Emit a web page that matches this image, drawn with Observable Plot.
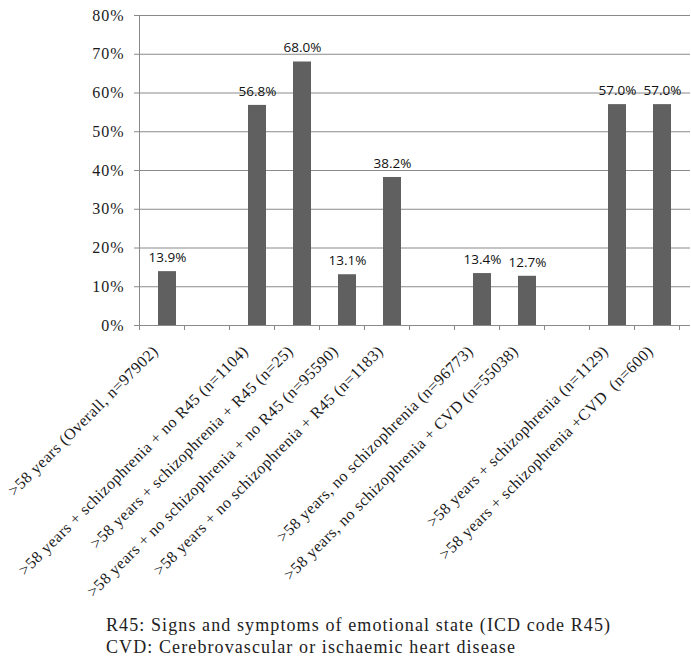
<!DOCTYPE html>
<html>
<head>
<meta charset="utf-8">
<script src="https://cdn.jsdelivr.net/npm/d3@7"></script>
<script src="https://cdn.jsdelivr.net/npm/@observablehq/plot@0.6"></script>
<style>
  body { margin: 0; background: #fff; }
  #caption {
    font-family: "Liberation Serif", serif;
    font-size: 18px;
    letter-spacing: 1.1px;
    line-height: 22px;
    color: #222;
    padding-left: 106px;
    margin-top: 9px;
  }
  g[aria-label="x-axis tick label"] text { letter-spacing: 0.5px; }
  g[aria-label="y-axis tick label"] text { letter-spacing: 1px; }
</style>
</head>
<body>
<div id="chart"></div>
<div id="caption">
  <div>R45: Signs and symptoms of emotional state (ICD code R45)</div>
  <div>CVD: Cerebrovascular or ischaemic heart disease</div>
</div>
<script>
// Groups along the x axis; empty strings are spacer slots between clusters
const groups = [
  ">58 years (Overall, n=97902)",
  "",
  ">58 years + schizophrenia + no R45 (n=1104)",
  ">58 years + schizophrenia + R45 (n=25)",
  ">58 years + no schizophrenia + no R45 (n=95590)",
  ">58 years + no schizophrenia + R45 (n=1183)",
  "",
  ">58 years, no schizophrenia (n=96773)",
  ">58 years, no schizophrenia + CVD (n=55038)",
  "",
  ">58 years + schizophrenia (n=1129)",
  ">58 years + schizophrenia +CVD  (n=600)"
];
// Percentage for each group (null = spacer)
const shares = [13.9, null, 56.8, 68.0, 13.1, 38.2, null, 13.4, 12.7, null, 57.0, 57.0];
// Y axis ticks in percent
const yTicks = [0, 10, 20, 30, 40, 50, 60, 70, 80];

const slots = d3.range(groups.length);
const bars = slots.filter(i => shares[i] != null).map(i => ({i, v: shares[i]}));

const gray = "#8a8a8a";

const chart = Plot.plot({
  width: 691,
  height: 605,
  marginLeft: 139,
  marginRight: 1,
  marginTop: 15,
  marginBottom: 280,
  style: {fontFamily: "Liberation Serif, serif", fontSize: "16px", color: "#1a1a1a", background: "#fff"},
  x: {type: "band", domain: slots, paddingInner: 0.6, paddingOuter: 0.3},
  y: {domain: [0, 80]},
  marks: [
    Plot.gridY(yTicks, {stroke: gray, strokeOpacity: 1}),
    Plot.axisY(yTicks, {tickSize: 5, tickPadding: 10, stroke: gray, tickFormat: d => d + "%", label: null, fontSize: 16}),
    Plot.ruleY([0], {stroke: gray}),
    Plot.barY(bars, {x: "i", y: "v", fill: "#606060"}),
    Plot.text(bars, {x: "i", y: "v", text: d => d.v.toFixed(1) + "%", dy: -14,
      fontFamily: "Open Sans, sans-serif", fontSize: 13.5, fill: "#111"}),
    Plot.axisX(slots, {tickSize: 0, tickPadding: 23, dx: -12, tickRotate: -45,
      tickFormat: i => groups[i], label: null, fontSize: 16})
  ]
});

// Category boundary tick marks below the baseline and the vertical y axis line
const xs = chart.scale("x");
const ys = chart.scale("y");
const y0 = ys.apply(0);
const g = d3.select(chart).append("g").attr("stroke", gray).attr("stroke-width", 1);
g.append("line")
  .attr("x1", xs.range[0] + 0.5).attr("x2", xs.range[0] + 0.5)
  .attr("y1", ys.apply(80)).attr("y2", y0 + 5);
d3.range(1, groups.length + 1).forEach(k => {
  const bx = Math.round(xs.range[0] + k * xs.step) + 0.5;
  g.append("line").attr("x1", bx).attr("x2", bx).attr("y1", y0).attr("y2", y0 + 5);
});

document.getElementById("chart").appendChild(chart);
</script>
</body>
</html>
